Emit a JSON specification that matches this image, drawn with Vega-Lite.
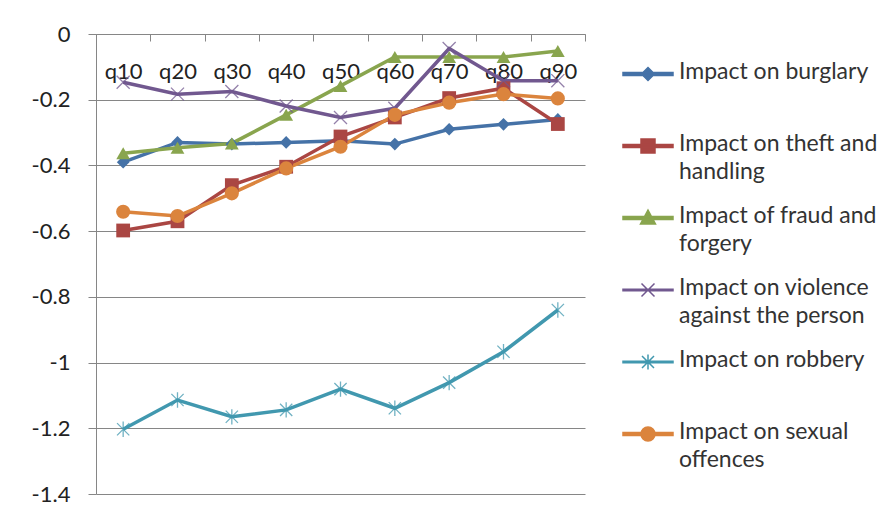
{
  "$schema": "https://vega.github.io/schema/vega-lite/v6.json",
  "width": 489,
  "height": 460,
  "autosize": {"type": "none"},
  "padding": {"left": 96, "top": 34, "right": 306, "bottom": 18},
  "background": "white",
  "config": {
    "view": {"stroke": null},
    "font": "Lato",
    "axis": {"labelFont": "Lato", "labelColor": "#222222", "titleFont": "Lato"}
  },
  "data": {
    "values": [
      {"q": "q10", "series": "Impact on burglary", "v": -0.39},
      {"q": "q20", "series": "Impact on burglary", "v": -0.33},
      {"q": "q30", "series": "Impact on burglary", "v": -0.335},
      {"q": "q40", "series": "Impact on burglary", "v": -0.33},
      {"q": "q50", "series": "Impact on burglary", "v": -0.325},
      {"q": "q60", "series": "Impact on burglary", "v": -0.335},
      {"q": "q70", "series": "Impact on burglary", "v": -0.29},
      {"q": "q80", "series": "Impact on burglary", "v": -0.275},
      {"q": "q90", "series": "Impact on burglary", "v": -0.26},
      {"q": "q10", "series": "Impact on theft and handling", "v": -0.598},
      {"q": "q20", "series": "Impact on theft and handling", "v": -0.57},
      {"q": "q30", "series": "Impact on theft and handling", "v": -0.46},
      {"q": "q40", "series": "Impact on theft and handling", "v": -0.404},
      {"q": "q50", "series": "Impact on theft and handling", "v": -0.312},
      {"q": "q60", "series": "Impact on theft and handling", "v": -0.254},
      {"q": "q70", "series": "Impact on theft and handling", "v": -0.195},
      {"q": "q80", "series": "Impact on theft and handling", "v": -0.165},
      {"q": "q90", "series": "Impact on theft and handling", "v": -0.274},
      {"q": "q10", "series": "Impact of fraud and forgery", "v": -0.363},
      {"q": "q20", "series": "Impact of fraud and forgery", "v": -0.346},
      {"q": "q30", "series": "Impact of fraud and forgery", "v": -0.333},
      {"q": "q40", "series": "Impact of fraud and forgery", "v": -0.246},
      {"q": "q50", "series": "Impact of fraud and forgery", "v": -0.158},
      {"q": "q60", "series": "Impact of fraud and forgery", "v": -0.07},
      {"q": "q70", "series": "Impact of fraud and forgery", "v": -0.07},
      {"q": "q80", "series": "Impact of fraud and forgery", "v": -0.07},
      {"q": "q90", "series": "Impact of fraud and forgery", "v": -0.052},
      {"q": "q10", "series": "Impact on violence against the person", "v": -0.147},
      {"q": "q20", "series": "Impact on violence against the person", "v": -0.183},
      {"q": "q30", "series": "Impact on violence against the person", "v": -0.175},
      {"q": "q40", "series": "Impact on violence against the person", "v": -0.219},
      {"q": "q50", "series": "Impact on violence against the person", "v": -0.254},
      {"q": "q60", "series": "Impact on violence against the person", "v": -0.226},
      {"q": "q70", "series": "Impact on violence against the person", "v": -0.044},
      {"q": "q80", "series": "Impact on violence against the person", "v": -0.142},
      {"q": "q90", "series": "Impact on violence against the person", "v": -0.142},
      {"q": "q10", "series": "Impact on robbery", "v": -1.203},
      {"q": "q20", "series": "Impact on robbery", "v": -1.114},
      {"q": "q30", "series": "Impact on robbery", "v": -1.165},
      {"q": "q40", "series": "Impact on robbery", "v": -1.144},
      {"q": "q50", "series": "Impact on robbery", "v": -1.081},
      {"q": "q60", "series": "Impact on robbery", "v": -1.139},
      {"q": "q70", "series": "Impact on robbery", "v": -1.061},
      {"q": "q80", "series": "Impact on robbery", "v": -0.967},
      {"q": "q90", "series": "Impact on robbery", "v": -0.84},
      {"q": "q10", "series": "Impact on sexual offences", "v": -0.541},
      {"q": "q20", "series": "Impact on sexual offences", "v": -0.554},
      {"q": "q30", "series": "Impact on sexual offences", "v": -0.485},
      {"q": "q40", "series": "Impact on sexual offences", "v": -0.409},
      {"q": "q50", "series": "Impact on sexual offences", "v": -0.343},
      {"q": "q60", "series": "Impact on sexual offences", "v": -0.246},
      {"q": "q70", "series": "Impact on sexual offences", "v": -0.209},
      {"q": "q80", "series": "Impact on sexual offences", "v": -0.183},
      {"q": "q90", "series": "Impact on sexual offences", "v": -0.196}
    ]
  },
  "encoding": {
    "x": {
      "field": "q",
      "type": "nominal",
      "sort": null,
      "scale": {"paddingInner": 0, "paddingOuter": 0},
      "axis": {
        "orient": "bottom",
        "offset": -460,
        "title": null,
        "labelAngle": 0,
        "labelFontSize": 22,
        "labelPadding": 20,
        "ticks": true,
        "tickBand": "extent",
        "tickSize": 7,
        "tickColor": "#868686",
        "domainColor": "#868686",
        "grid": false
      }
    },
    "y": {
      "field": "v",
      "type": "quantitative",
      "scale": {"domain": [-1.4, 0], "nice": false, "zero": false},
      "axis": {
        "title": null,
        "values": [0, -0.2, -0.4, -0.6, -0.8, -1, -1.2, -1.4],
        "labelExpr": "'' + datum.value",
        "labelFontSize": 22,
        "labelPadding": 18,
        "ticks": true,
        "tickSize": 8,
        "tickColor": "#868686",
        "domainColor": "#868686",
        "grid": true,
        "gridColor": "#868686",
        "gridOpacity": 1,
        "gridWidth": 1
      }
    },
    "color": {
      "field": "series",
      "type": "nominal",
      "legend": null,
      "scale": {
        "domain": ["Impact on burglary", "Impact on theft and handling", "Impact of fraud and forgery", "Impact on violence against the person", "Impact on robbery", "Impact on sexual offences"],
        "range": ["#4572A7", "#AA4643", "#89A54E", "#71588F", "#4198AF", "#DB843D"]
      }
    }
  },
  "layer": [
    {
      "mark": {"type": "line", "strokeWidth": 3.5},
      "encoding": {
        "color": {
          "field": "series",
          "type": "nominal",
          "legend": {
            "orient": "none",
            "legendX": 526,
            "legendY": 15,
            "title": null,
            "symbolSize": 2500,
            "symbolType": "circle",
            "clipHeight": 50,
            "rowPadding": 9,
            "labelOffset": 5,
            "labelFont": "Lato",
            "labelFontSize": 23,
            "labelColor": "#333333",
            "labelLimit": 400,
            "labelBaseline": "top",
            "labelExpr": "datum.label == 'Impact on theft and handling' ? ['Impact on theft and', 'handling'] : datum.label == 'Impact of fraud and forgery' ? ['Impact of fraud and', 'forgery'] : datum.label == 'Impact on violence against the person' ? ['Impact on violence', 'against the person'] : datum.label == 'Impact on sexual offences' ? ['Impact on sexual', 'offences'] : [datum.label, ' ']",
            "encode": {
              "labels": {"update": {"dy": {"value": -13}, "lineHeight": {"value": 28}}},
              "symbols": {
                "update": {
                  "shape": {"signal": "datum.value == 'Impact on burglary' ? 'M-1,-0.06H1V0.06H-1Z M0,-0.26L0.26,0L0,0.26L-0.26,0Z' : datum.value == 'Impact on theft and handling' ? 'M-1,-0.06H1V0.06H-1Z M-0.28,-0.28H0.28V0.28H-0.28Z' : datum.value == 'Impact of fraud and forgery' ? 'M-1,-0.06H1V0.06H-1Z M0,-0.32L0.3,0.24H-0.3Z' : datum.value == 'Impact on violence against the person' ? 'M-1,-0.03H1V0.03H-1Z M-0.26,-0.26L0.26,0.26M-0.26,0.26L0.26,-0.26' : datum.value == 'Impact on robbery' ? 'M-1,-0.03H1V0.03H-1Z M-0.24,-0.24L0.24,0.24M-0.24,0.24L0.24,-0.24M0,-0.3L0,0.3' : 'M-1,-0.06H1V0.06H-1Z M-0.28,0A0.28,0.28 0 1,1 0.28,0A0.28,0.28 0 1,1 -0.28,0Z'"},
                  "fill": {"signal": "scale('color', datum.value)"},
                  "stroke": {"signal": "(datum.value == 'Impact on violence against the person' || datum.value == 'Impact on robbery') ? scale('color', datum.value) : 'transparent'"},
                  "strokeWidth": {"value": 1.5},
                  "opacity": {"value": 1},
                  "fillOpacity": {"value": 1}
                }
              }
            }
          }
        }
      }
    },
    {
      "transform": [{"filter": "datum.series == 'Impact on burglary'"}],
      "mark": {"type": "point", "filled": true, "size": 160, "opacity": 1, "shape": "diamond"}
    },
    {
      "transform": [{"filter": "datum.series == 'Impact on theft and handling'"}],
      "mark": {"type": "point", "filled": true, "size": 190, "opacity": 1, "shape": "square"}
    },
    {
      "transform": [{"filter": "datum.series == 'Impact of fraud and forgery'"}],
      "mark": {"type": "point", "filled": true, "size": 190, "opacity": 1, "shape": "triangle-up"}
    },
    {
      "transform": [{"filter": "datum.series == 'Impact on violence against the person'"}],
      "mark": {"type": "point", "filled": false, "size": 170, "strokeWidth": 1.3, "opacity": 0.75, "shape": "M-1,-1L1,1M-1,1L1,-1"}
    },
    {
      "transform": [{"filter": "datum.series == 'Impact on robbery'"}],
      "mark": {"type": "point", "filled": false, "size": 150, "strokeWidth": 1.3, "opacity": 0.75, "shape": "M-1,-1L1,1M-1,1L1,-1M0,-1.25L0,1.25"}
    },
    {
      "transform": [{"filter": "datum.series == 'Impact on sexual offences'"}],
      "mark": {"type": "point", "filled": true, "size": 200, "opacity": 1, "shape": "circle"}
    }
  ]
}
